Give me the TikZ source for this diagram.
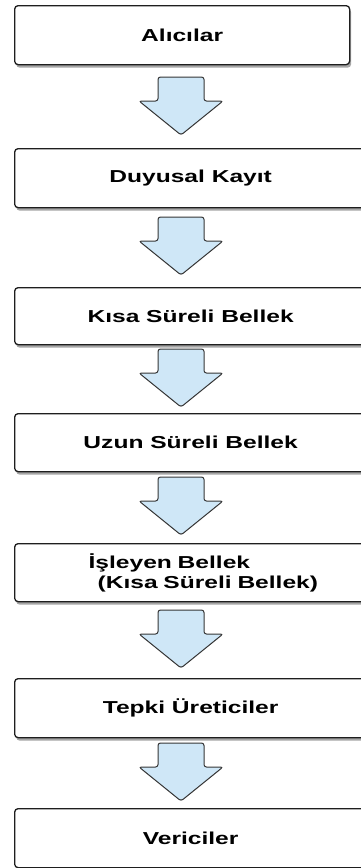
\documentclass[tikz,border=0pt]{standalone}
\usepackage{fontspec}
\setmainfont{Liberation Sans}[FakeStretch=1.42]
\usetikzlibrary{shadows}
\definecolor{arrowfill}{RGB}{207,231,247}
\definecolor{edgegray}{RGB}{30,30,30}
\tikzset{
  box/.style={draw=edgegray, line width=1.3pt, fill=white, rounded corners=3.5pt,
    drop shadow={shadow xshift=1.5pt, shadow yshift=-3pt, fill=black, opacity=0.35},
    inner sep=0pt, anchor=north west,
    font=\fontsize{17.3}{20.5}\selectfont\bfseries},
  barrowstyle/.style={draw=edgegray!90, line width=1pt, fill=arrowfill, rounded corners=2.5pt},
  pics/barrow/.style={code={
    \draw[barrowstyle] (-23,0) -- (23,0) -- (23,-24) -- (42,-24) -- (0,-58)
      -- (-42,-24) -- (-23,-24) -- cycle;}}
}
\begin{document}
\begin{tikzpicture}[x=1pt,y=1pt]
\useasboundingbox (0,0) rectangle (361,-868);
\node[box, minimum width=335pt, minimum height=59pt] (b1) at (14,-5) {Alıcılar};
\node[box, minimum width=352pt, minimum height=59pt] (b2) at (14,-148) {Duyusal Kayıt};
\node[box, minimum width=352pt, minimum height=57pt] (b3) at (14,-287) {Kısa Süreli Bellek};
\node[box, minimum width=352pt, minimum height=58pt] (b4) at (14,-413) {Uzun Süreli Bellek};
\node[box, minimum width=352pt, minimum height=58pt, text width=352pt, align=left] (b5) at (14,-543)
  {\hspace*{74pt}İşleyen Bellek\\\hspace*{83pt}(Kısa Süreli Bellek)};
\node[box, minimum width=352pt, minimum height=59pt] (b6) at (14,-678) {Tepki Üreticiler};
\node[box, minimum width=352pt, minimum height=59pt] (b7) at (14,-808) {Vericiler};
\pic (a1) at (181,-77) {barrow};
\pic (a2) at (181,-217) {barrow};
\pic (a3) at (181,-349) {barrow};
\pic (a4) at (181,-477) {barrow};
\pic (a5) at (181,-610) {barrow};
\pic (a6) at (181,-743) {barrow};
\end{tikzpicture}
\end{document}
